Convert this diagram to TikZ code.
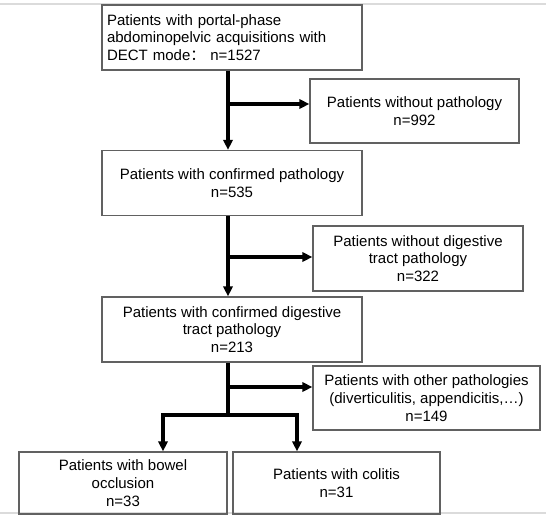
\documentclass[tikz,border=0pt]{standalone}
\usepackage{fontspec}
\setmainfont{Liberation Sans}
\newfontfamily\cjk{Noto Sans CJK SC}
\usetikzlibrary{arrows.meta,positioning}

\begin{document}
\begin{tikzpicture}[
  x=0.75pt,y=-0.75pt,
  box/.style={draw=black!62,line width=1pt,inner sep=0pt,align=center,
    font=\fontsize{11.25pt}{13.4pt}\selectfont},
  wide/.style={box,minimum width=195pt,minimum height=48.75pt},
  flow/.style={line width=2.6pt,-{Triangle[length=7.5pt,width=7pt]}},
  rule/.style={black!14,line width=1.5pt}
]
  \useasboundingbox (0,0) rectangle (550,519);
  \draw[rule] (0,4) -- (546,4);
  \draw[rule] (0,513) -- (546,513);

  \node[wide,text width=187.5pt,align=left] (all) at (232,37.5)
    {Patients with portal-phase\\abdominopelvic acquisitions with\\DECT mode{\cjk ：} n=1527};
  \node[box,minimum width=156.75pt,minimum height=48pt] (nopath) at (414.5,111)
    {Patients without pathology\\n=992};
  \node[wide] (path) at (232,183) {Patients with confirmed pathology\\n=535};
  \node[box,minimum width=157.5pt,minimum height=48.75pt] (nodig) at (418,258.5)
    {Patients without digestive\\tract pathology\\n=322};
  \node[wide] (dig) at (232,329.5)
    {Patients with confirmed digestive\\tract pathology\\n=213};
  \node[box,minimum width=170.25pt,minimum height=48pt] (other) at (426.5,398)
    {Patients with other pathologies\\(diverticulitis, appendicitis,…)\\n=149};
  \node[box,minimum width=156pt,minimum height=46.5pt] (occl) at (123,483)
    {Patients with bowel\\occlusion\\n=33};
  \node[box,minimum width=155.25pt,minimum height=46.5pt] (colit) at (336.5,483)
    {Patients with colitis\\n=31};

  \coordinate (s1) at (228,104);
  \coordinate (s2) at (228,257);
  \coordinate (s3) at (228,387);
  \coordinate (f) at (228,415);
  \coordinate (fl) at (163,415);
  \coordinate (fr) at (297,415);

  \draw[flow] (all.south -| s1) -- (path.north -| s1);
  \draw[flow] (s1) -- (nopath.west |- s1);
  \draw[flow] (path.south -| s2) -- (dig.north -| s2);
  \draw[flow] (s2) -- (nodig.west |- s2);
  \draw[line width=2.6pt] (dig.south -| s3) -- (f);
  \draw[flow] (s3) -- (other.west |- s3);
  \draw[flow] (f) -- (fl) -- (occl.north -| fl);
  \draw[flow] (f) -- (fr) -- (colit.north -| fr);
\end{tikzpicture}
\end{document}
